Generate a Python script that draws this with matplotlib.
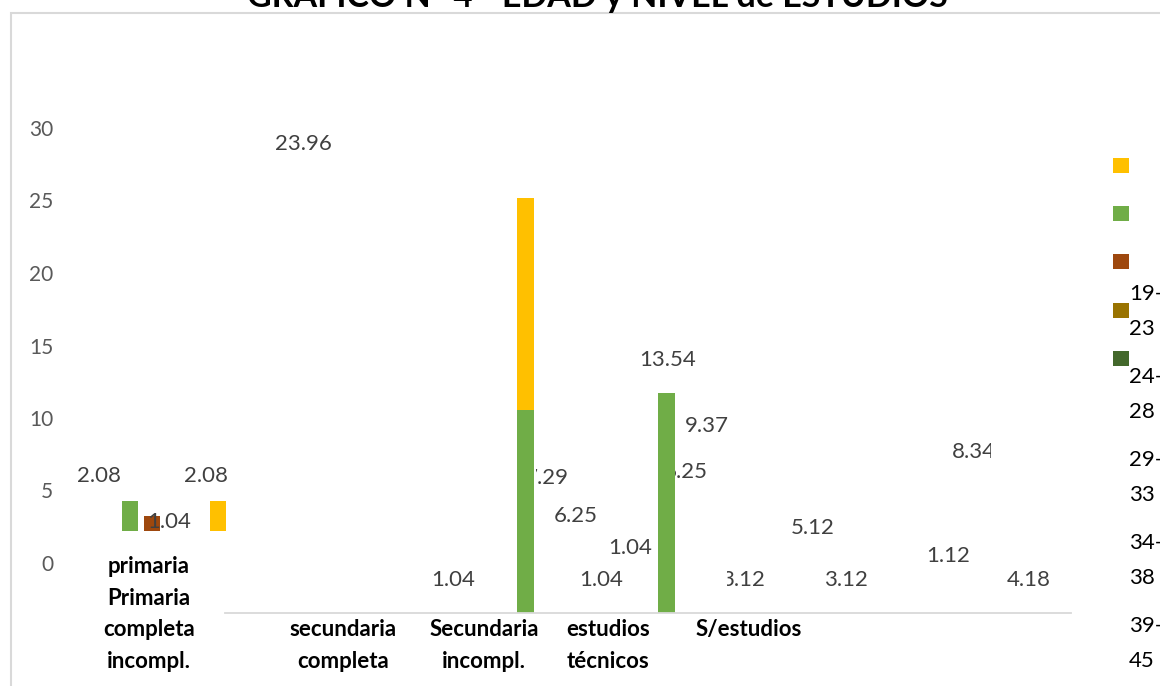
import matplotlib
matplotlib.use("Agg")
import matplotlib.pyplot as plt
import numpy as np
from matplotlib.patches import Rectangle
from matplotlib.transforms import Bbox

# ---------------- data ----------------
title = "GRÁFICO N° 4 - EDAD y NIVEL de ESTUDIOS"
categories = ["primaria\nPrimaria\ncompleta\nincompl.", "secundaria\ncompleta",
              "Secundaria\nincompl.", "estudios\ntécnicos", "S/estudios"]
age_groups = ["19-\n23", "24-\n28", "29-\n33", "34-\n38", "39-\n45"]
y_ticks = [0, 5, 10, 15, 20, 25, 30]

# floating primaria group (green, brown, gold, dark green, yellow)
primaria_values = [2.08, 1.04, 0.0, 0.0, 2.08]

# stacked bars in the main plot (slot index of the category)
main_slots = [2, 3]
main_green = [14.0, 15.2]
main_yellow = [14.6, 0.0]

# data labels as they appear
data_labels = ["23.96", "2.08", "1.04", "2.08", "13.54", "9.37", "7.29", "6.25",
               "1.04", "1.04", "1.04", "6.25", "3.12", "5.12", "3.12", "1.12",
               "8.34", "4.18"]

# ---------------- styling / layout ----------------
W, H = 1160, 686
def fx(x): return x / W
def fy(y): return 1 - y / H

YELLOW, GREEN, BROWN, GOLD, DKGREEN = "#FFC000", "#70AD47", "#9E480E", "#997300", "#43682B"
legend_colors = [YELLOW, GREEN, BROWN, GOLD, DKGREEN]
primaria_colors = [GREEN, BROWN, GOLD, DKGREEN, YELLOW]

label_px = [(303, 142), (99, 475), (169, 521), (206, 475), (668, 358), (707, 425),
            (547, 477), (576, 515), (630, 547), (453, 578), (601, 578), (686, 471),
            (743, 578), (813, 527), (846, 578), (948, 555), (974, 451), (1029, 578)]
label_clip = {6: (536, None), 12: (727, None), 16: (None, 991)}

cat_x = [149, 343, 484, 608, 749]
cat_first_baseline = [573, 636, 636, 636, 636]
cat_step = 31.7

plt.rcParams['font.family'] = ['Lato', 'DejaVu Sans']

fig = plt.figure(figsize=(W / 100, H / 100), dpi=100)
fig.patch.set_facecolor("white")

# outer frame (only top/left visible)
fig.add_artist(Rectangle((fx(11), fy(H + 50)), 2.0, (H + 50 - 13) / H,
                         transform=fig.transFigure, fill=False,
                         edgecolor="#D9D9D9", linewidth=1.5))

# title (partially out of the canvas)
fig.text(fx(597), fy(7), title, ha="center", va="baseline",
         fontsize=24.5, fontweight="bold", color="black")

# y tick axis
axy = fig.add_axes([fx(60), fy(563), 0.0005, 435 / H])
axy.set_ylim(0, 30)
axy.set_yticks(y_ticks)
axy.set_yticklabels([str(t) for t in y_ticks])
axy.tick_params(axis="y", length=0, pad=5, labelsize=15, labelcolor="#595959")
axy.set_xticks([])
for s in axy.spines.values():
    s.set_visible(False)
axy.patch.set_alpha(0)

# floating primaria group
axp = fig.add_axes([fx(119), fy(531), 110 / W, 6 * 14.5 / H])
axp.bar(np.arange(len(primaria_values)), primaria_values, width=0.77,
        color=primaria_colors, zorder=2)
axp.set_xlim(-0.5, 4.5)
axp.set_ylim(0, 6)
axp.axis("off")

# main plot
ax = fig.add_axes([fx(225), fy(613), (1071 - 225) / W, 30 * 14.5 / H])
ax.patch.set_alpha(0)
ax.set_xlim(0, 6)
ax.set_ylim(0, 30)
xs = np.array(main_slots) + 0.13
ax.bar(xs, main_green, width=0.12, color=GREEN, zorder=2)
ax.bar(xs, main_yellow, bottom=main_green, width=0.12, color=YELLOW, zorder=2)
for k, s in ax.spines.items():
    s.set_visible(k == "bottom")
ax.spines["bottom"].set_color("#D9D9D9")
ax.spines["bottom"].set_linewidth(1.3)
ax.set_xticks([])
ax.set_yticks([])

for i, (txt, (px, py)) in enumerate(zip(data_labels, label_px)):
    t = ax.text(fx(px), fy(py + 7.5), txt, transform=fig.transFigure,
                ha="center", va="baseline", fontsize=16, color="#404040",
                zorder=1, clip_on=False)
    if i in label_clip:
        x0, x1 = label_clip[i]
        x0 = 0 if x0 is None else x0
        x1 = W if x1 is None else x1
        t.set_clip_box(Bbox.from_extents(x0, 0, x1, H))
        t.set_clip_on(True)

# category labels
for cat, x, yb in zip(categories, cat_x, cat_first_baseline):
    for j, line in enumerate(cat.split("\n")):
        fig.text(fx(x), fy(yb + j * cat_step), line, ha="center", va="baseline",
                 fontsize=16, fontweight="bold", color="black")

# legend (misaligned, as in the original)
for i, c in enumerate(legend_colors):
    yc = 165.5 + 48.2 * i
    fig.add_artist(Rectangle((fx(1113), fy(yc + 7.5)), 16 / W, 15 / H,
                             transform=fig.transFigure, facecolor=c, edgecolor="none"))
for i, lab in enumerate(age_groups):
    yc = 291.5 + 83.1 * i
    for j, line in enumerate(lab.split("\n")):
        fig.text(fx(1129), fy(yc + 35.5 * j + 8), line, ha="left", va="baseline",
                 fontsize=16, color="black")

fig.savefig("out.png", dpi=100)
